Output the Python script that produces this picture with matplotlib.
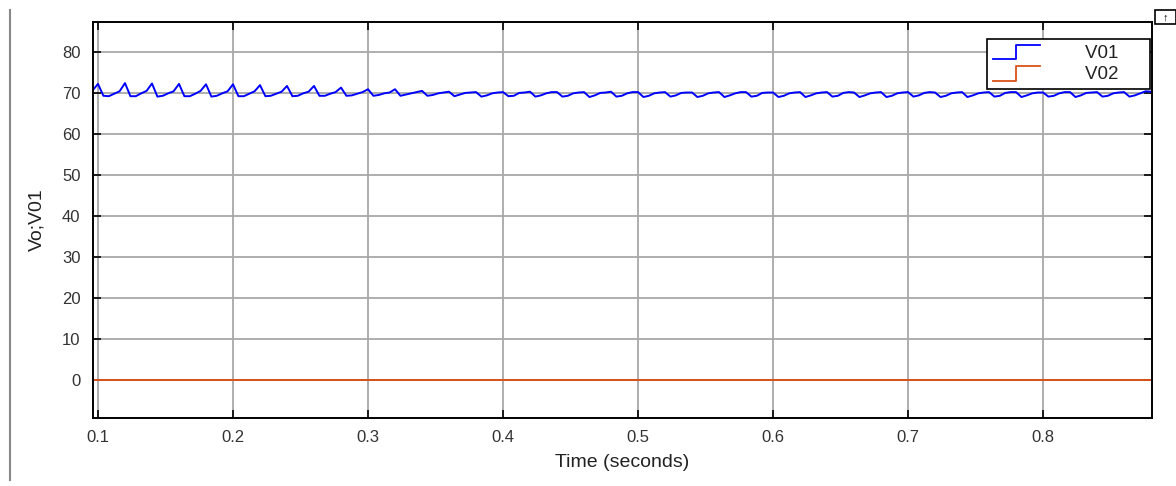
import numpy as np
import matplotlib
matplotlib.use("Agg")
import matplotlib.pyplot as plt
from matplotlib.lines import Line2D
from matplotlib.legend_handler import HandlerBase
from matplotlib.patches import Rectangle

plt.rcParams["font.family"] = ["Liberation Sans", "DejaVu Sans"]

# scope samples, 4 ms apart, starting at t0
t0 = 0.096
dt = 0.004
v01 = [
    70.6,
    72.2, 69.3, 69.2, 69.8, 70.4,
    72.4, 69.2, 69.2, 69.9, 70.5,
    72.3, 69.1, 69.3, 69.9, 70.4,
    72.2, 69.2, 69.2, 69.8, 70.5,
    72.1, 69.1, 69.3, 69.9, 70.4,
    72.1, 69.2, 69.2, 69.8, 70.4,
    71.9, 69.2, 69.3, 69.8, 70.3,
    71.7, 69.2, 69.3, 69.9, 70.3,
    71.7, 69.3, 69.3, 69.8, 70.2,
    71.3, 69.3, 69.4, 69.8, 70.2,
    70.9, 69.3, 69.5, 69.9, 70.1,
    70.9, 69.3, 69.6, 69.9, 70.2,
    70.5, 69.3, 69.5, 69.9, 70.1,
    70.3, 69.2, 69.6, 70.0, 70.1,
    70.2, 69.1, 69.4, 69.9, 70.1,
    70.2, 69.2, 69.3, 70.0, 70.1,
    70.3, 69.1, 69.4, 69.9, 70.2,
    70.2, 69.1, 69.3, 69.9, 70.1,
    70.2, 69.0, 69.4, 70.0, 70.1,
    70.3, 69.1, 69.3, 69.9, 70.2,
    70.2, 69.0, 69.3, 69.9, 70.1,
    70.2, 69.1, 69.4, 70.0, 70.1,
    70.1, 69.0, 69.3, 69.9, 70.1,
    70.2, 69.0, 69.4, 69.9, 70.2,
    70.2, 69.1, 69.3, 70.0, 70.1,
    70.1, 69.0, 69.3, 69.9, 70.1,
    70.2, 69.0, 69.4, 69.9, 70.1,
    70.2, 69.1, 69.3, 70.0, 70.2,
    70.1, 69.0, 69.4, 69.9, 70.1,
    70.2, 69.0, 69.3, 69.9, 70.1,
    70.2, 69.1, 69.4, 70.0, 70.2,
    70.1, 69.0, 69.3, 69.9, 70.1,
    70.2, 69.0, 69.4, 69.9, 70.1,
    70.2, 69.1, 69.3, 70.0, 70.2,
    70.2, 69.0, 69.4, 69.9, 70.1,
    70.1, 69.1, 69.3, 69.9, 70.2,
    70.2, 69.0, 69.4, 70.0, 70.1,
    70.2, 69.1, 69.3, 69.9, 70.1,
    70.2, 69.1, 69.4, 69.9, 70.4,
    70.3, 69.0,
]
v02_t = [0.09, 0.89]
v02 = [0.0, 0.0]

x_ticks = [0.1, 0.2, 0.3, 0.4, 0.5, 0.6, 0.7, 0.8]
y_ticks = [0, 10, 20, 30, 40, 50, 60, 70, 80]

t = t0 + dt * np.arange(len(v01))


class StepHandler(HandlerBase):
    """legend icon drawn as a little step, like the scope legend"""
    def create_artists(self, legend, orig_handle, xdescent, ydescent,
                       width, height, fontsize, trans):
        xs = np.array([0, 0.5, 0.5, 1.0]) * width - xdescent
        ys = np.array([-0.1, -0.1, 1.0, 1.0]) * height - ydescent
        ln = Line2D(xs, ys, color=orig_handle.get_color(), lw=1.3, transform=trans)
        return [ln]


fig = plt.figure(figsize=(11.76, 4.86), dpi=100)
ax = fig.add_axes([93 / 1176, 1 - 418 / 486, 1059 / 1176, 396 / 486])

l1, = ax.plot(t, v01, color="#0000ff", lw=1.4, label="V01")
l2, = ax.plot(v02_t, v02, color="#d95319", lw=1.4, label="V02")

ax.set_xlim(0.0963, 0.8807)
ax.set_ylim(-9.3, 87.3)
ax.set_xticks(x_ticks)
ax.set_yticks(y_ticks)
ax.grid(True, color="#a8a8a8", lw=1.3)
ax.set_axisbelow(True)
ax.tick_params(direction="in", top=True, right=True, length=6, width=1.2,
               labelsize=12, colors="black", labelcolor="#333333", pad=9)
for sp in ax.spines.values():
    sp.set_linewidth(1.4)

ax.set_xlabel("Time (seconds)", fontsize=14, color="#222222", labelpad=6)
ax.set_ylabel("Vo;V01", fontsize=14, color="#222222", labelpad=12)

leg = ax.legend(handles=[l1, l2], labels=["V01     ", "V02     "],
                loc="upper right",
                bbox_to_anchor=(0.9985, 0.957), borderaxespad=0,
                fancybox=False, framealpha=1, edgecolor="black",
                fontsize=13.5, handlelength=2.5, handletextpad=2.4,
                borderpad=0.32, labelspacing=0.22,
                handler_map={Line2D: StepHandler()})
leg.get_frame().set_linewidth(1.2)
for txt in leg.get_texts():
    txt.set_color("#222222")

# window decorations around the captured scope
fig.add_artist(Line2D([10 / 1176, 10 / 1176], [6 / 486, 476 / 486],
                      color="#888888", lw=1.5))
fig.add_artist(Rectangle((1155 / 1176, 1 - 24 / 486), 21 / 1176, 14 / 486,
                         fill=False, edgecolor="black", lw=1.2))
fig.text(1165 / 1176, 1 - 17 / 486, "\u2191", fontsize=8, ha="center", va="center")

fig.savefig("out.png", dpi=100)
